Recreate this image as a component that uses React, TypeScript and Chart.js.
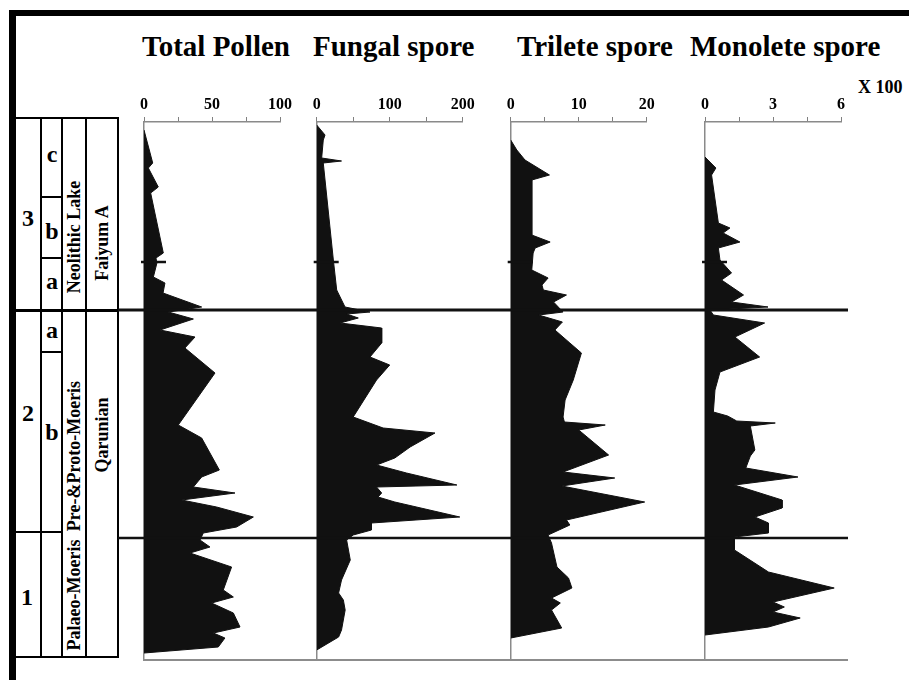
import React, { useEffect, useRef } from "react";
import { Chart, registerables } from "chart.js";

Chart.register(...registerables);

// ---------- DATA (depth units: 0 = top of record, 538 = base) ----------
const DEPTH_MAX = 538;
const zoneBoundaries = [188, 416]; // zone 3/2 and zone 2/1
const subzoneMarks = [140];

const tpDepth = [8, 41, 46, 65, 71, 131, 136, 141, 155, 161, 171, 185, 190, 197, 208, 215, 226, 251, 303, 316, 348, 355, 365, 371, 378, 385, 395, 405, 411, 418, 425, 431, 445, 468, 475, 481, 491, 505, 511, 516, 525, 531];
const tpValues = [0, 6.4, 3.2, 10.5, 4.9, 14.2, 8.8, 9.5, 6.9, 15.4, 14, 42.4, 17.9, 36.3, 11.8, 37.5, 30.1, 52.2, 25.2, 42.4, 55.4, 42.4, 36.3, 66.9, 27.7, 53.4, 80.4, 68.1, 43.6, 41.2, 48.5, 33.8, 64.4, 58.3, 65.7, 49.7, 65.7, 70.6, 51, 59.5, 54.6, 0];

const fsDepth = [3, 13, 18, 36, 39, 41, 138, 168, 185, 190, 192, 196, 201, 206, 221, 235, 243, 258, 295, 306, 311, 325, 336, 343, 351, 363, 365, 371, 375, 380, 395, 401, 408, 413, 418, 438, 458, 471, 478, 488, 508, 515, 528];
const fsValues = [0, 11.4, 9, 6.8, 34, 9, 22.8, 27.4, 38.8, 73, 41, 57, 32, 89, 89, 73, 100, 82, 50, 91, 162, 128, 107, 82, 123, 192, 82, 89, 84, 107, 196, 75, 75, 50, 41, 46, 34, 30, 36.5, 39, 34, 30, 0];

const trDepth = [18, 28, 38, 53, 58, 113, 120, 126, 131, 148, 156, 163, 168, 173, 180, 190, 193, 200, 208, 221, 231, 258, 278, 295, 300, 303, 308, 333, 350, 356, 364, 380, 398, 403, 413, 421, 445, 456, 466, 476, 481, 488, 506, 516];
const trValues = [0, 0.9, 2.1, 5.7, 3.1, 3.1, 5.8, 3.6, 3.3, 3.1, 5.5, 4.6, 4.8, 8.2, 6.3, 7.7, 4.1, 7.6, 6.5, 8.7, 10.4, 9.2, 8.0, 7.7, 7.9, 13.9, 10, 14.4, 7.7, 15.3, 7.5, 19.7, 8.2, 8.7, 5.5, 6, 6.8, 8.5, 9, 6, 7.3, 6, 7.5, 0];

const msDepth = [35, 46, 53, 101, 106, 111, 120, 126, 138, 151, 158, 173, 180, 185, 188, 193, 201, 215, 235, 250, 268, 290, 294, 299, 301, 304, 328, 334, 346, 355, 363, 378, 386, 395, 401, 411, 415, 428, 450, 466, 480, 485, 490, 496, 505, 513];
const msValues = [0, 0.48, 0.29, 0.59, 1.1, 0.8, 1.54, 0.59, 0.66, 1.17, 0.73, 1.7, 1.17, 2.78, 0.22, 0.37, 2.63, 1.32, 2.41, 0.66, 0.44, 0.37, 1.0, 1.4, 3.1, 2.0, 2.2, 2.0, 1.8, 4.1, 1.3, 3.4, 3.4, 2.2, 2.8, 2.8, 1.3, 1.3, 2.8, 5.7, 3.0, 3.5, 3.0, 4.2, 2.8, 0];

const titles = ["Total Pollen", "Fungal spore", "Trilete spore", "Monolete spore"];
const axisMax = [100, 200, 20, 6];
const axisStep = [25, 50, 5, 1.5];
const axisLabels = [[0, 50, 100], [0, 100, 200], [0, 10, 20], [0, 3, 6]];

// ---------- LAYOUT ----------
const FONT = '"Liberation Serif", "Times New Roman", serif';
const CANVAS_TOP = 80;
const AXIS_H = 42;
const CANVAS_H = 586;

const panelLayout = [
  { titleLeft: 142, canvasLeft: 118, canvasWidth: 182, axisLeft: 144, axisRight: 280, bottomFromAxis: true },
  { titleLeft: 313, canvasLeft: 300, canvasWidth: 190, axisLeft: 316.7, axisRight: 462.7, bottomFromAxis: false },
  { titleLeft: 517, canvasLeft: 490, canvasWidth: 200, axisLeft: 510.7, axisRight: 646.7, bottomFromAxis: false },
  { titleLeft: 690, canvasLeft: 690, canvasWidth: 158, axisLeft: 705, axisRight: 841.7, bottomFromAxis: false },
];
const seriesDepth = [tpDepth, fsDepth, trDepth, msDepth];
const seriesValues = [tpValues, fsValues, trValues, msValues];

const zonePlugin = (bottomFromAxis: boolean) => ({
  id: "zoneLines",
  afterDatasetsDraw(chart: any) {
    const { ctx, scales } = chart;
    const x = scales.x;
    const y = scales.y;
    const W = chart.width;
    const x0 = x.getPixelForValue(0);
    ctx.save();
    ctx.strokeStyle = "#111";
    zoneBoundaries.forEach((d, i) => {
      const py = y.getPixelForValue(d);
      ctx.lineWidth = i === 0 ? 3 : 2.5;
      ctx.beginPath();
      ctx.moveTo(0, py);
      ctx.lineTo(W, py);
      ctx.stroke();
    });
    const pb = y.getPixelForValue(DEPTH_MAX);
    ctx.strokeStyle = "#8c8c8c";
    ctx.lineWidth = 2;
    ctx.beginPath();
    ctx.moveTo(bottomFromAxis ? x0 - 1 : 0, pb);
    ctx.lineTo(W, pb);
    ctx.stroke();
    ctx.strokeStyle = "#111";
    ctx.lineWidth = 2.5;
    subzoneMarks.forEach((d) => {
      const py = y.getPixelForValue(d);
      ctx.beginPath();
      ctx.moveTo(x0 - 3, py);
      ctx.lineTo(x0 + 22, py);
      ctx.stroke();
    });
    ctx.restore();
  },
});

function Panel({ idx }: { idx: number }) {
  const ref = useRef<HTMLCanvasElement>(null);
  const L = panelLayout[idx];
  useEffect(() => {
    const canvas = ref.current!;
    const depth = seriesDepth[idx];
    const values = seriesValues[idx];
    const labels = axisLabels[idx];
    const chart = new Chart(canvas, {
      type: "line",
      data: {
        datasets: [
          {
            data: depth.map((d, i) => ({ x: values[i], y: d })),
            fill: "origin",
            backgroundColor: "#111",
            borderColor: "#111",
            borderWidth: 1,
            pointRadius: 0,
            tension: 0,
          } as any,
        ],
      },
      options: {
        responsive: false,
        animation: false,
        indexAxis: "y",
        layout: {
          padding: {
            left: L.axisLeft - L.canvasLeft,
            right: L.canvasLeft + L.canvasWidth - L.axisRight,
            top: 0,
            bottom: CANVAS_H - AXIS_H - DEPTH_MAX,
          },
        },
        plugins: { legend: { display: false }, tooltip: { enabled: false } },
        scales: {
          x: {
            type: "linear",
            position: "top",
            min: 0,
            max: axisMax[idx],
            afterFit: (s: any) => {
              s.height = AXIS_H;
            },
            ticks: {
              stepSize: axisStep[idx],
              autoSkip: false,
              maxRotation: 0,
              padding: 3,
              color: "#000",
              font: { family: FONT, size: 16, weight: "bold" },
              callback: (v: any) => (labels.includes(Number(v)) ? String(v) : ""),
            },
            grid: { drawOnChartArea: false, drawTicks: true, tickLength: 5, color: "#808080", lineWidth: 1 },
            border: { display: true, color: "#8a8a8a", width: 1.5 },
          },
          y: {
            type: "linear",
            min: 0,
            max: DEPTH_MAX,
            reverse: true,
            afterFit: (s: any) => {
              s.width = 0;
            },
            ticks: { display: false },
            grid: { display: false, drawTicks: false, tickLength: 0 },
            border: { display: true, color: "#8a8a8a", width: 1.5 },
          },
        },
      } as any,
      plugins: [zonePlugin(L.bottomFromAxis)],
    });
    return () => chart.destroy();
  }, []);
  return (
    <canvas
      ref={ref}
      width={L.canvasWidth}
      height={CANVAS_H}
      style={{ position: "absolute", left: L.canvasLeft, top: CANVAS_TOP, width: L.canvasWidth, height: CANVAS_H }}
    />
  );
}

const hLine = (x1: number, x2: number, y: number, t: number, key: string) => (
  <div key={key} style={{ position: "absolute", left: x1, top: y - t / 2, width: x2 - x1, height: t, background: "#000" }} />
);
const vLine = (x: number, y1: number, y2: number, t: number, key: string) => (
  <div key={key} style={{ position: "absolute", left: x - t / 2, top: y1, width: t, height: y2 - y1, background: "#000" }} />
);
const label = (text: string, cx: number, cy: number, size: number, rotate: boolean, key: string) => (
  <div
    key={key}
    style={{
      position: "absolute",
      left: cx,
      top: cy,
      transform: `translate(-50%, -50%)${rotate ? " rotate(-90deg)" : ""}`,
      fontSize: size,
      lineHeight: 1,
      whiteSpace: "nowrap",
      fontWeight: "bold",
    }}
  >
    {text}
  </div>
);

export default function App() {
  const T = 118, B = 657;
  return (
    <div
      style={{
        position: "absolute",
        left: 0,
        top: 0,
        width: 909,
        height: 680,
        background: "#fff",
        overflow: "hidden",
        fontFamily: FONT,
        color: "#000",
      }}
    >
      {/* frame */}
      <div style={{ position: "absolute", left: 9, top: 10, width: 900, height: 6, background: "#000" }} />
      <div style={{ position: "absolute", left: 9, top: 10, width: 7, height: 670, background: "#000" }} />

      {/* titles */}
      {titles.map((t, i) => (
        <div
          key={t}
          style={{
            position: "absolute",
            left: panelLayout[i].titleLeft,
            top: 32,
            fontSize: 29,
            lineHeight: "29px",
            fontWeight: "bold",
            whiteSpace: "nowrap",
          }}
        >
          {t}
        </div>
      ))}
      <div style={{ position: "absolute", left: 858, top: 78, fontSize: 18, lineHeight: "18px", fontWeight: "bold", whiteSpace: "nowrap" }}>
        X 100
      </div>

      {/* zone table */}
      {hLine(15, 118, T, 2.5, "t")}
      {hLine(15, 118, B, 2.5, "b")}
      {vLine(41, T, B, 2, "v1")}
      {vLine(62, T, B, 2, "v2")}
      {vLine(86, T, B, 2, "v3")}
      {vLine(118, T - 1, B + 1, 2.5, "v4")}
      {hLine(15, 118, 310, 3, "z32")}
      {hLine(41, 62, 197, 2, "s1")}
      {hLine(41, 62, 258, 2, "s2")}
      {hLine(41, 62, 352, 2, "s3")}
      {hLine(15, 62, 532, 2, "z21")}

      {label("3", 28, 218, 24, false, "n3")}
      {label("2", 28, 413, 24, false, "n2")}
      {label("1", 27, 597, 24, false, "n1")}
      {label("c", 52, 154, 24, false, "l3c")}
      {label("b", 52, 231, 24, false, "l3b")}
      {label("a", 52, 281, 24, false, "l3a")}
      {label("a", 52, 330, 24, false, "l2a")}
      {label("b", 52, 432, 24, false, "l2b")}
      {label("Neolithic Lake", 74, 237, 18, true, "neo")}
      {label("Faiyum A", 102, 243, 18, true, "fai")}
      {label("Pre-&Proto-Moeris", 74, 456, 18, true, "pre")}
      {label("Qarunian", 102, 435, 18, true, "qar")}
      {label("Palaeo-Moeris", 74, 595, 18, true, "pal")}

      {panelLayout.map((_, i) => (
        <Panel key={i} idx={i} />
      ))}
    </div>
  );
}
